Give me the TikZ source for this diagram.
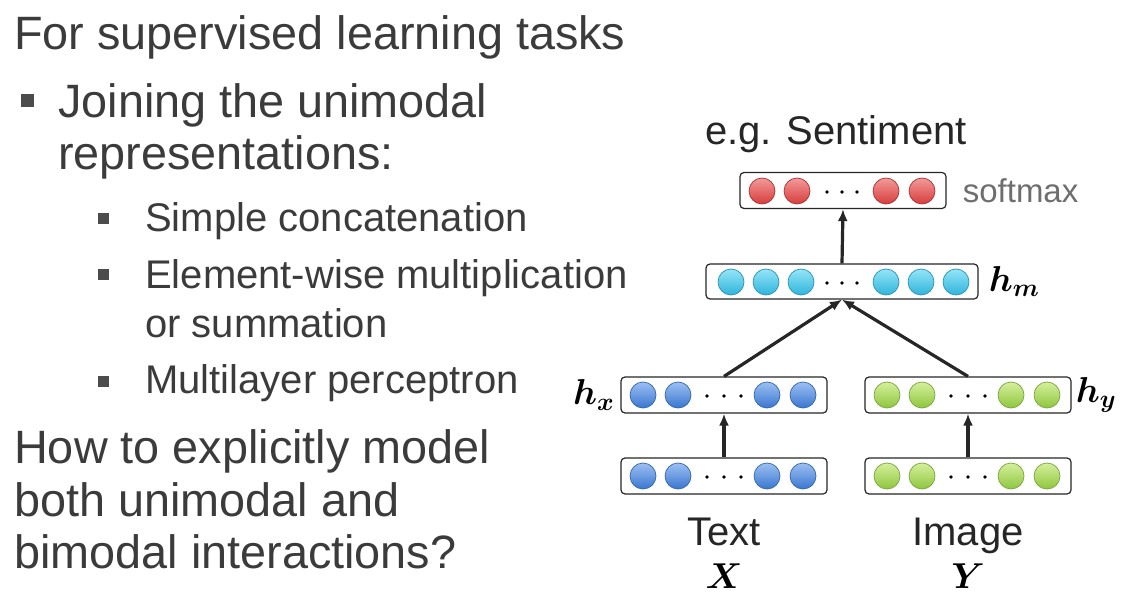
\RequirePackage{fix-cm}
\documentclass[tikz,border=0pt]{standalone}
\usepackage{fontspec}
\setmainfont{Liberation Sans}
\usetikzlibrary{positioning,arrows.meta}
\definecolor{slidetext}{HTML}{3B3B3B}
\definecolor{softgray}{HTML}{6E6E6E}
\definecolor{redtop}{HTML}{F39A9A}
\definecolor{redbot}{HTML}{D83C3C}
\definecolor{redrim}{HTML}{A83232}
\definecolor{cyantop}{HTML}{94E6F8}
\definecolor{cyanbot}{HTML}{2FB4DA}
\definecolor{cyanrim}{HTML}{2A93B4}
\definecolor{bluetop}{HTML}{9CC0F2}
\definecolor{bluebot}{HTML}{3A76D0}
\definecolor{bluerim}{HTML}{3366AA}
\definecolor{greentop}{HTML}{D6EF9C}
\definecolor{greenbot}{HTML}{8EC63E}
\definecolor{greenrim}{HTML}{78A63A}
\tikzset{
  layerbox/.style={draw=black!85,line width=1.2pt,rounded corners=4pt,fill=white,inner sep=0pt},
  unit/.style={circle,inner sep=0pt,minimum size=26pt,line width=0.7pt},
  redunit/.style={unit,draw=redrim,top color=redtop,bottom color=redbot},
  cyanunit/.style={unit,draw=cyanrim,top color=cyantop,bottom color=cyanbot},
  blueunit/.style={unit,draw=bluerim,top color=bluetop,bottom color=bluebot},
  greenunit/.style={unit,draw=greenrim,top color=greentop,bottom color=greenbot},
  dotunit/.style={circle,fill=black,inner sep=0pt,minimum size=3.8pt},
  bigtext/.style={font=\fontsize{46.8}{52}\selectfont,text=slidetext,inner sep=0pt,anchor=base west},
  subtext/.style={font=\fontsize{40}{46}\selectfont,text=slidetext,inner sep=0pt,anchor=base west},
  hlabel/.style={font=\fontsize{36}{40}\selectfont\boldmath,inner sep=0pt},
  flow/.style={-{Latex[length=12pt,width=10pt]},line width=3.2pt,black!85}
}
\begin{document}
\begin{tikzpicture}[x=1pt,y=-1pt]
  \useasboundingbox (0,0) rectangle (1125,604);
% slide text
  \node[bigtext] (title) at (14,50) {For supervised learning tasks};
  \fill[black!70] (20.5,94.5) rectangle (33.5,107.5);
  \node[bigtext] (join) at (58,118) {Joining the unimodal};
  \node[bigtext] (reps) at (58,170) {representations:};
  \foreach \y in {219,275,381}{% small bullets
    \fill[black!70] (97.5,\y-5.5) rectangle (108.5,\y+5.5);
  }
  \node[subtext] (concat) at (145,232) {Simple concatenation};
  \node[subtext] (elem) at (145,288) {Element-wise multiplication};
  \node[subtext] (summ) at (145,337) {or summation};
  \node[subtext] (mlp) at (145,393) {Multilayer perceptron};
  \node[bigtext] (q1) at (14,463) {How to explicitly model};
  \node[bigtext] (q2) at (14,516) {both unimodal and};
  \node[bigtext] (q3) at (14,568) {bimodal interactions?};
% layer boxes
  \node[layerbox,minimum width=206pt,minimum height=36pt] (soft) at (843,190.5) {};
  \node[layerbox,minimum width=272pt,minimum height=35pt] (hm) at (842,281.5) {};
  \node[layerbox,minimum width=206pt,minimum height=36pt] (hx) at (724,395) {};
  \node[layerbox,minimum width=206pt,minimum height=36pt] (hy) at (968,395) {};
  \node[layerbox,minimum width=206pt,minimum height=36pt] (inx) at (724,476) {};
  \node[layerbox,minimum width=206pt,minimum height=36pt] (iny) at (968,476) {};
% units
  \foreach \x in {762,797,886,922}
    \node[redunit] (s\x) at (\x,191) {};
  \foreach \x in {731,766,801,886,921,956}
    \node[cyanunit] (m\x) at (\x,282) {};
  \foreach \x in {643,678,767,803}{%
    \node[blueunit] (hx\x) at (\x,395) {};
    \node[blueunit] (ix\x) at (\x,476) {};
  }
  \foreach \x in {887,922,1011,1047}{%
    \node[greenunit] (hy\x) at (\x,395) {};
    \node[greenunit] (iy\x) at (\x,476) {};
  }
  \foreach \x in {827,842,857}{%
    \node[dotunit] (sd\x) at (\x,192) {};
    \node[dotunit] (md\x) at (\x,283) {};
  }
  \foreach \x in {707,724,741}{%
    \node[dotunit] (hxd\x) at (\x,396) {};
    \node[dotunit] (ixd\x) at (\x,477) {};
    \node[dotunit] (hyd\x) at (\x+244,396) {};
    \node[dotunit] (iyd\x) at (\x+244,477) {};
  }
% connections
  \draw[flow] (hm.north) -- (soft.south);
  \draw[flow] (hx.north) -- (hm.south);
  \draw[flow] (hy.north) -- (hm.south);
  \draw[flow] (inx.north) -- (hx.south);
  \draw[flow] (iny.north) -- (hy.south);
% labels
  \node[font=\fontsize{40}{46}\selectfont,text=black!85,inner sep=0pt,anchor=base] (task) at (836,145) {e.g. Sentiment};
  \node[font=\fontsize{33}{38}\selectfont,text=softgray,inner sep=0pt,right=16pt of soft] (smx) {softmax};
  \node[hlabel,right=10pt of hm] (hmlab) {$h_m$};
  \node[hlabel,left=6pt of hx] (hxlab) {$h_x$};
  \node[hlabel,right=4pt of hy] (hylab) {$h_y$};
  \node[font=\fontsize{40}{46}\selectfont,text=black!85,inner sep=0pt,anchor=base] (txt) at (724,545) {Text};
  \node[hlabel,anchor=base] (xin) at (724,588) {$X$};
  \node[font=\fontsize{40}{46}\selectfont,text=black!85,inner sep=0pt,anchor=base] (img) at (968,545) {Image};
  \node[hlabel,anchor=base] (yin) at (968,588) {$Y$};
\end{tikzpicture}
\end{document}
